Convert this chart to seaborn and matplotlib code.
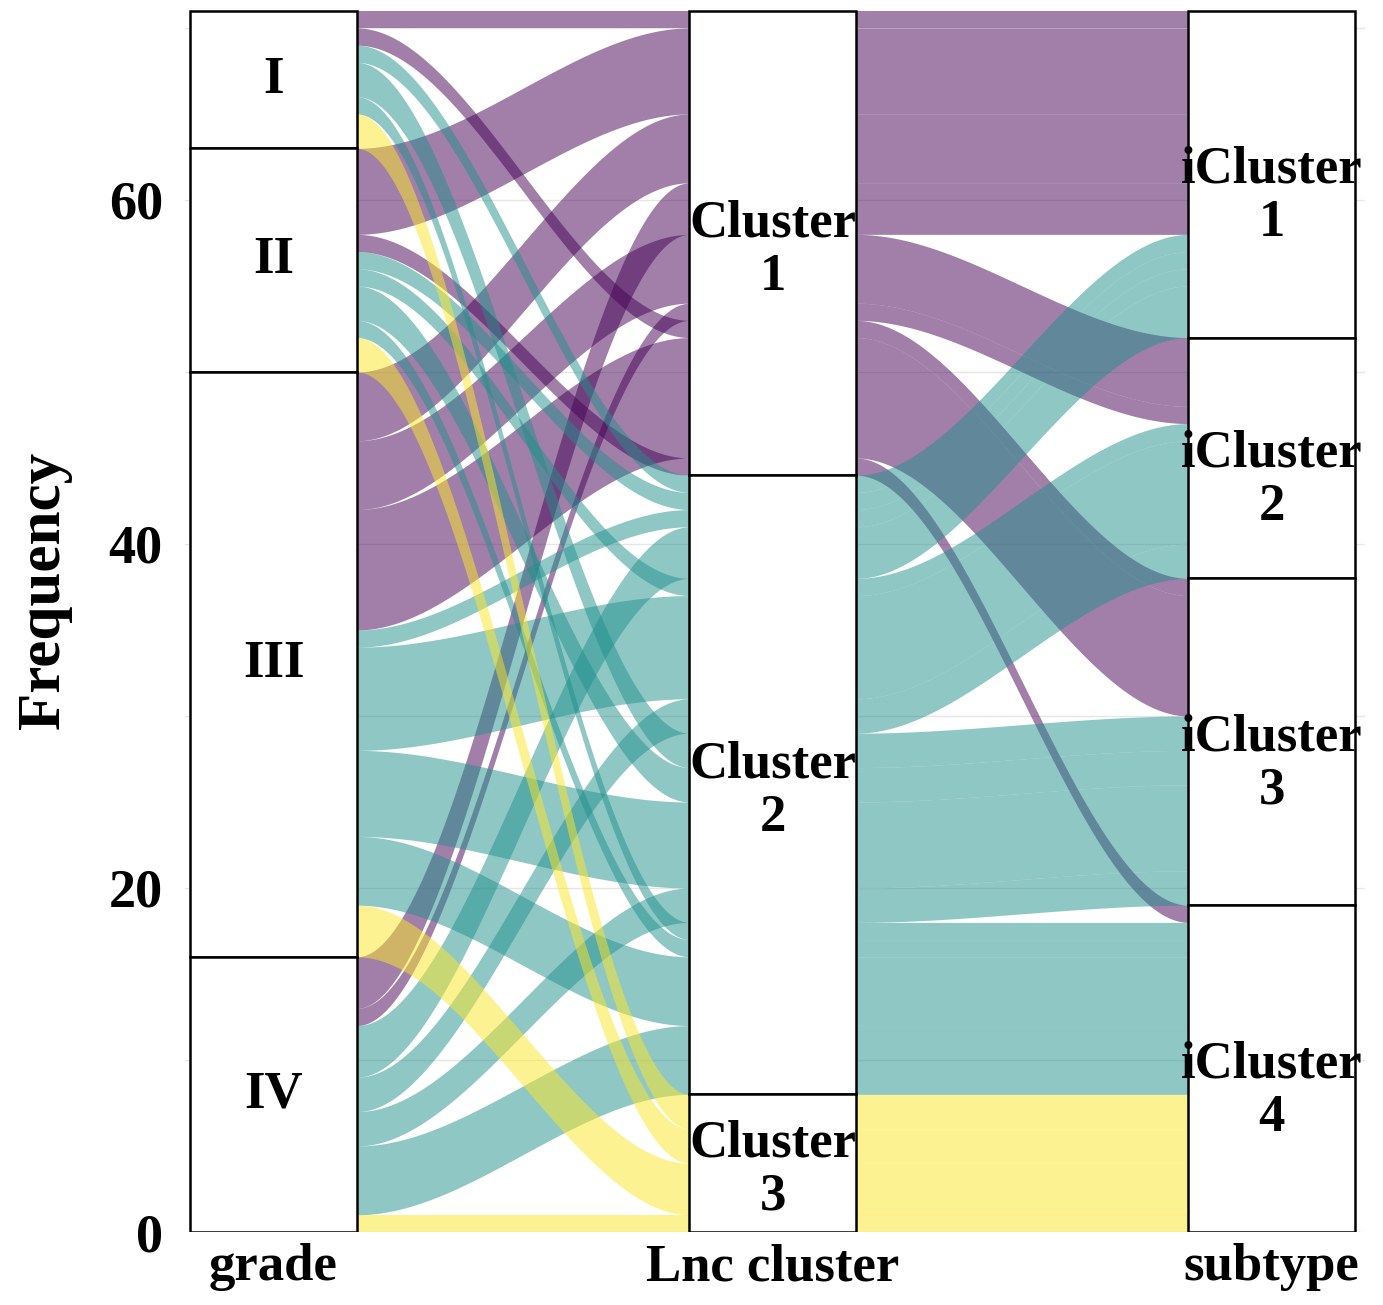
import numpy as np
import pandas as pd
import matplotlib
matplotlib.use("Agg")
import matplotlib.pyplot as plt
import seaborn as sns

# ---- data -------------------------------------------------------------
grade_levels = ["I", "II", "III", "IV"]
lnc_levels = ["Cluster 1", "Cluster 2", "Cluster 3"]
subtype_levels = ["iCluster 1", "iCluster 2", "iCluster 3", "iCluster 4"]
axis_titles = ["grade", "Lnc cluster", "subtype"]

# one entry per alluvium (grade, Lnc cluster, subtype) with its sample count
alluvium_grade = ["I"] * 6 + ["II"] * 7 + ["III"] * 8 + ["IV"] * 7
alluvium_lnc = [
    "Cluster 1", "Cluster 1", "Cluster 2", "Cluster 2", "Cluster 2", "Cluster 3",
    "Cluster 1", "Cluster 1", "Cluster 2", "Cluster 2", "Cluster 2", "Cluster 2", "Cluster 3",
    "Cluster 1", "Cluster 1", "Cluster 1", "Cluster 2", "Cluster 2", "Cluster 2", "Cluster 2", "Cluster 3",
    "Cluster 1", "Cluster 1", "Cluster 2", "Cluster 2", "Cluster 2", "Cluster 2", "Cluster 3",
]
alluvium_subtype = [
    "iCluster 1", "iCluster 3", "iCluster 1", "iCluster 3", "iCluster 4", "iCluster 4",
    "iCluster 1", "iCluster 4", "iCluster 1", "iCluster 2", "iCluster 3", "iCluster 4", "iCluster 4",
    "iCluster 1", "iCluster 2", "iCluster 3", "iCluster 1", "iCluster 2", "iCluster 3", "iCluster 4", "iCluster 4",
    "iCluster 1", "iCluster 2", "iCluster 1", "iCluster 2", "iCluster 3", "iCluster 4", "iCluster 4",
]
alluvium_freq = [1, 1, 1, 2, 1, 2,
                 5, 1, 1, 1, 2, 1, 2,
                 4, 4, 7, 1, 6, 5, 4, 3,
                 3, 1, 3, 2, 2, 4, 1]

lnc_colors = {"Cluster 1": "#440154", "Cluster 2": "#21908C", "Cluster 3": "#FDE725"}

# ---- lode positions ---------------------------------------------------
df = pd.DataFrame({"grade": alluvium_grade, "lnc": alluvium_lnc,
                   "subtype": alluvium_subtype, "freq": alluvium_freq})
df["g"] = df["grade"].map({v: i for i, v in enumerate(grade_levels)})
df["l"] = df["lnc"].map({v: i for i, v in enumerate(lnc_levels)})
df["s"] = df["subtype"].map({v: i for i, v in enumerate(subtype_levels)})
df["idx"] = np.arange(len(df))
total = df["freq"].sum()

# lodes on each axis are stacked top-down, ordered by the axis' own stratum,
# then by the other axes working outward (zigzag)
lode_order = {0: ["g", "l", "s", "idx"], 1: ["l", "s", "g", "idx"], 2: ["s", "l", "g", "idx"]}
for k, keys in lode_order.items():
    d = df.sort_values(keys)
    top = total - d["freq"].cumsum() + d["freq"]
    df.loc[d.index, f"ymax{k}"] = top
    df.loc[d.index, f"ymin{k}"] = top - d["freq"]

# ---- figure -----------------------------------------------------------
sns.set_theme(style="whitegrid")
plt.rcParams["font.family"] = ["Liberation Serif", "DejaVu Serif"]
plt.rcParams["font.weight"] = "bold"
plt.rcParams["text.color"] = "black"
plt.rcParams["axes.labelcolor"] = "black"
plt.rcParams["xtick.color"] = "black"
plt.rcParams["ytick.color"] = "black"

fig = plt.figure(figsize=(13.83, 13.05), dpi=100)
ax = fig.add_axes([185 / 1383, 73 / 1305, 1180 / 1383, 1224 / 1305])

w = 1 / 3
xpos = np.array([1, 2, 3])


def flow_curve(y_axes, n=120):
    """Piecewise sigmoid path through the lode edges on the three axes."""
    xs, ys = [], []
    for i in range(2):
        xa, xb = xpos[i] + w / 2, xpos[i + 1] - w / 2
        x_in = np.linspace(xpos[i], xa, 4)
        xs.append(x_in)
        ys.append(np.full_like(x_in, y_axes[i]))
        t = np.linspace(0, 1, n)
        sm = 3 * t ** 2 - 2 * t ** 3
        xs.append(xa + t * (xb - xa))
        ys.append(y_axes[i] + (y_axes[i + 1] - y_axes[i]) * sm)
        x_out = np.linspace(xb, xpos[i + 1], 4)
        xs.append(x_out)
        ys.append(np.full_like(x_out, y_axes[i + 1]))
    return np.concatenate(xs), np.concatenate(ys)


# alluvia are drawn grouped by fill level, so later clusters sit on top
for _, row in df.sort_values(["l", "idx"]).iterrows():
    x, upper = flow_curve([row["ymax0"], row["ymax1"], row["ymax2"]])
    _, lower = flow_curve([row["ymin0"], row["ymin1"], row["ymin2"]])
    ax.fill_between(x, lower, upper, color=lnc_colors[row["lnc"]],
                    alpha=0.5, linewidth=0, zorder=2)

# ---- strata boxes and labels -----------------------------------------
strata = [
    ("grade", grade_levels, grade_levels, 0.0),
    ("lnc", lnc_levels, ["Cluster\n1", "Cluster\n2", "Cluster\n3"], -0.4),
    ("subtype", subtype_levels,
     ["iCluster\n1", "iCluster\n2", "iCluster\n3", "iCluster\n4"], -1.3),
]
for k, (col, levels, labels, nudge) in enumerate(strata):
    counts = df.groupby(col)["freq"].sum().reindex(levels).values
    tops = total - np.cumsum(counts) + counts
    bottoms = tops - counts
    ax.bar(np.full(len(levels), xpos[k]), counts, bottom=bottoms, width=w,
           color="white", edgecolor="black", linewidth=1.8, zorder=3)
    for lab, b, c in zip(labels, bottoms, counts):
        ax.text(xpos[k], b + c / 2 + nudge, lab, ha="center", va="center",
                fontsize=38, fontweight="bold", color="black", zorder=4,
                linespacing=1.15)

# ---- axes styling -----------------------------------------------------
ax.set_xlim(0.8226, 3.187)
ax.set_ylim(0, 71.16)
ax.set_xticks(xpos)
ax.set_xticklabels(axis_titles, fontsize=38, fontweight="bold", color="black")
ax.set_yticks([0, 20, 40, 60])
ax.set_yticks([10, 30, 50, 70], minor=True)
ax.tick_params(axis="y", labelsize=39, pad=16, length=0, colors="black")
ax.tick_params(axis="x", pad=8, length=0, colors="black")
for lab in ax.get_yticklabels():
    lab.set_fontweight("bold")
ax.grid(axis="x", visible=False)
ax.grid(axis="y", which="both", color="#E6E6E6", linewidth=1.0)
ax.set_axisbelow(True)
for sp in ax.spines.values():
    sp.set_visible(False)
ax.set_facecolor("white")
ax.set_ylabel("Frequency", fontsize=44, fontweight="bold", color="black")
ax.yaxis.set_label_coords(-0.096, 0.524)

fig.savefig("out.png", dpi=100, facecolor="white")
